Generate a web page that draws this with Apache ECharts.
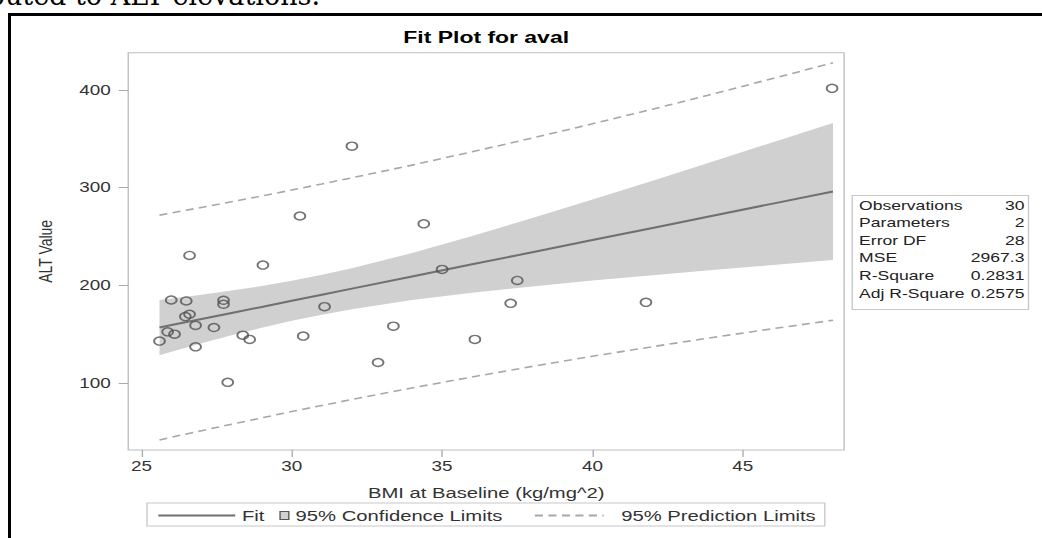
<!DOCTYPE html>
<html>
<head>
<meta charset="utf-8">
<title>Fit Plot for aval</title>
<script src="https://cdn.jsdelivr.net/npm/echarts@6/dist/echarts.min.js"></script>
<style>
  html, body { margin: 0; padding: 0; background: #fff; overflow: hidden; }
  #doc { position: absolute; left: 0; top: 0; }
  /* the SAS figure is laid out at its natural width and widened to the page column */
  #chart { position: absolute; left: 0; top: 0; width: 772px; height: 538px;
           transform: scaleX(1.3497); transform-origin: 0 0; }
</style>
</head>
<body>
<svg id="doc" width="1042" height="538">
  <text x="320" y="5" text-anchor="end" font-family="DejaVu Serif" font-size="27" fill="#000">buted to ALT elevations.</text>
  <path d="M9.5 538 V14.5 H1042" stroke="#000" stroke-width="3" fill="none"/>
</svg>
<div id="chart"></div>
<script>
// Observed values: BMI at baseline and ALT value
const bmi = [26.6, 29.04, 25.99, 26.49, 27.73, 27.73, 26.6, 26.46, 26.8, 27.41,
             25.87, 26.1, 25.6, 26.8, 28.37, 28.6, 27.87, 30.38, 31.09, 35.0,
             37.5, 37.28, 33.38, 32.87, 36.09, 32.0, 30.27, 34.39, 47.97, 41.78];
const alt = [230.6, 220.7, 185.0, 184.0, 184.7, 180.6, 170.4, 168.0, 159.0, 156.8,
             152.4, 150.0, 142.9, 137.0, 149.0, 144.6, 100.7, 148.0, 178.2, 216.3,
             205.0, 181.6, 158.2, 121.0, 144.6, 342.5, 271.0, 263.0, 401.7, 182.6];

// Fitted line and its limits along the BMI range
const bandX   = [25.6, 26, 27, 28, 29, 30, 31, 32, 34, 36, 38, 40, 42, 44, 46, 48];
const fitY    = [156.8, 159.3, 165.5, 171.7, 177.9, 184.2, 190.4, 196.6, 209.0, 221.5, 233.9, 246.4, 258.8, 271.2, 283.7, 296.1];
const ciLower = [128.5, 132.0, 140.6, 148.8, 156.5, 163.7, 170.0, 175.6, 184.9, 192.5, 198.9, 204.9, 210.4, 215.6, 220.8, 225.9];
const ciUpper = [185.1, 186.6, 190.4, 194.6, 199.3, 204.7, 210.8, 217.6, 233.1, 250.5, 268.9, 287.9, 307.2, 326.8, 346.6, 366.3];
const piLower = [41.7, 44.5, 51.2, 57.8, 64.3, 70.8, 77.0, 83.1, 94.9, 106.2, 117.0, 127.4, 137.2, 146.6, 155.6, 164.3];
const piUpper = [271.9, 274.1, 279.8, 285.6, 291.5, 297.6, 303.8, 310.1, 323.1, 336.8, 350.8, 365.4, 380.4, 395.8, 411.8, 427.9];

// Tick labels
const xTicks = [25, 30, 35, 40, 45];
const yTicks = [100, 200, 300, 400];

// Fit statistics table
const statLabels = ['Observations', 'Parameters', 'Error DF', 'MSE', 'R-Square', 'Adj R-Square'];
const statValues = ['30', '2', '28', '2967.3', '0.2831', '0.2575'];

const FONT = 'Liberation Sans';
const BAND = '#d0d0d0';
const pairs = (xs, ys) => xs.map((x, i) => [x, ys[i]]);

const chart = echarts.init(document.getElementById('chart'), null, { renderer: 'svg' });

const statGraphics = [{
  type: 'rect', silent: true,
  shape: { x: 631.4, y: 195.5, width: 130.6, height: 114 },
  style: { fill: '#fff', stroke: '#c8c8c8', lineWidth: 1 }
}];
statLabels.forEach((label, i) => {
  const y = 205 + i * 17.6;
  statGraphics.push({
    type: 'text', silent: true, x: 636.5, y: y,
    style: { text: label, fontSize: 13, fontFamily: FONT, fill: '#222', align: 'left', verticalAlign: 'middle' }
  });
  statGraphics.push({
    type: 'text', silent: true, x: 759, y: y,
    style: { text: statValues[i], fontSize: 13, fontFamily: FONT, fill: '#222', align: 'right', verticalAlign: 'middle' }
  });
});

const legendText = { fontSize: 15, fontFamily: FONT, color: '#333' };

chart.setOption({
  animation: false,
  title: {
    text: 'Fit Plot for aval',
    left: 360.2, top: 29, textAlign: 'center', padding: 0,
    textStyle: { fontSize: 17, fontWeight: 'bold', color: '#000', fontFamily: FONT }
  },
  grid: {
    left: 95, top: 52.7, width: 530.4, height: 397.3,
    show: true, borderColor: '#bdbdbd', borderWidth: 1, backgroundColor: 'transparent'
  },
  xAxis: {
    type: 'value', min: 24.56, max: 48.37,
    name: 'BMI at Baseline (kg/mg^2)', nameLocation: 'middle', nameGap: 35,
    nameTextStyle: { fontSize: 15, fontFamily: FONT, color: '#333' },
    axisLine: { show: false },
    axisTick: { show: true, length: 7, lineStyle: { color: '#aaa' }, customValues: xTicks },
    axisLabel: { margin: 9, fontSize: 14, fontFamily: FONT, color: '#333', customValues: xTicks },
    splitLine: { show: false }
  },
  yAxis: {
    type: 'value', min: 31.4, max: 438.2,
    name: 'ALT Value', nameLocation: 'middle', nameGap: 54,
    nameTextStyle: { fontSize: 14, fontFamily: FONT, color: '#333' },
    axisLine: { show: false },
    axisTick: { show: true, length: 7, lineStyle: { color: '#aaa' }, customValues: yTicks },
    axisLabel: { margin: 13, fontSize: 14, fontFamily: FONT, color: '#333', customValues: yTicks },
    splitLine: { show: false }
  },
  legend: [
    {
      data: [{ name: 'Fit', itemStyle: { opacity: 0 } }], selectedMode: false,
      left: 116.3, top: 508, itemWidth: 57, itemHeight: 14, padding: 0, textStyle: legendText
    },
    {
      data: [{ name: '95% Confidence Limits', icon: 'rect',
               itemStyle: { color: BAND, borderColor: '#555', borderWidth: 1 } }],
      selectedMode: false,
      left: 207, top: 508, itemWidth: 6.5, itemHeight: 8, padding: 0, textStyle: legendText
    },
    {
      data: [{ name: '95% Prediction Limits', itemStyle: { opacity: 0 } }], selectedMode: false,
      left: 395.3, top: 508, itemWidth: 51, itemHeight: 14, padding: 0,
      textStyle: Object.assign({ padding: [0, 0, 0, 8] }, legendText)
    }
  ],
  graphic: [{
    type: 'rect', silent: true, z: -1,
    shape: { x: 108.9, y: 503, width: 502.2, height: 23 },
    style: { fill: 'none', stroke: '#c8c8c8', lineWidth: 1 }
  }].concat(statGraphics),
  series: [
    {
      // confidence band: polygon along the upper limit and back along the lower limit
      name: '95% Confidence Limits', type: 'custom', silent: true, clip: true, z: 1,
      itemStyle: { color: BAND },
      data: [[bandX[0], ciLower[0]]],
      renderItem: function (params, api) {
        const upper = bandX.map((x, i) => api.coord([x, ciUpper[i]]));
        const lower = bandX.map((x, i) => api.coord([x, ciLower[i]])).reverse();
        return {
          type: 'polygon',
          shape: { points: upper.concat(lower) },
          style: { fill: BAND, stroke: null }
        };
      }
    },
    {
      name: '95% Prediction Limits', type: 'line', symbol: 'none', silent: true,
      data: pairs(bandX, piUpper),
      itemStyle: { color: '#a8a8a8' },
      lineStyle: { color: '#a8a8a8', width: 1.6, type: [6, 4] }, z: 2
    },
    {
      name: '95% Prediction Limits', type: 'line', symbol: 'none', silent: true,
      data: pairs(bandX, piLower),
      itemStyle: { color: '#a8a8a8' },
      lineStyle: { color: '#a8a8a8', width: 1.6, type: [6, 4] }, z: 2
    },
    {
      name: 'Fit', type: 'line', symbol: 'none', silent: true,
      data: pairs(bandX, fitY),
      itemStyle: { color: '#707070' },
      lineStyle: { color: '#707070', width: 2 }, z: 3
    },
    {
      name: 'ALT Value', type: 'scatter', symbol: 'circle', symbolSize: 8, silent: true,
      data: pairs(bmi, alt),
      itemStyle: { color: 'transparent', borderColor: '#505050', borderWidth: 1.4 }, z: 4
    }
  ]
});
</script>
</body>
</html>
